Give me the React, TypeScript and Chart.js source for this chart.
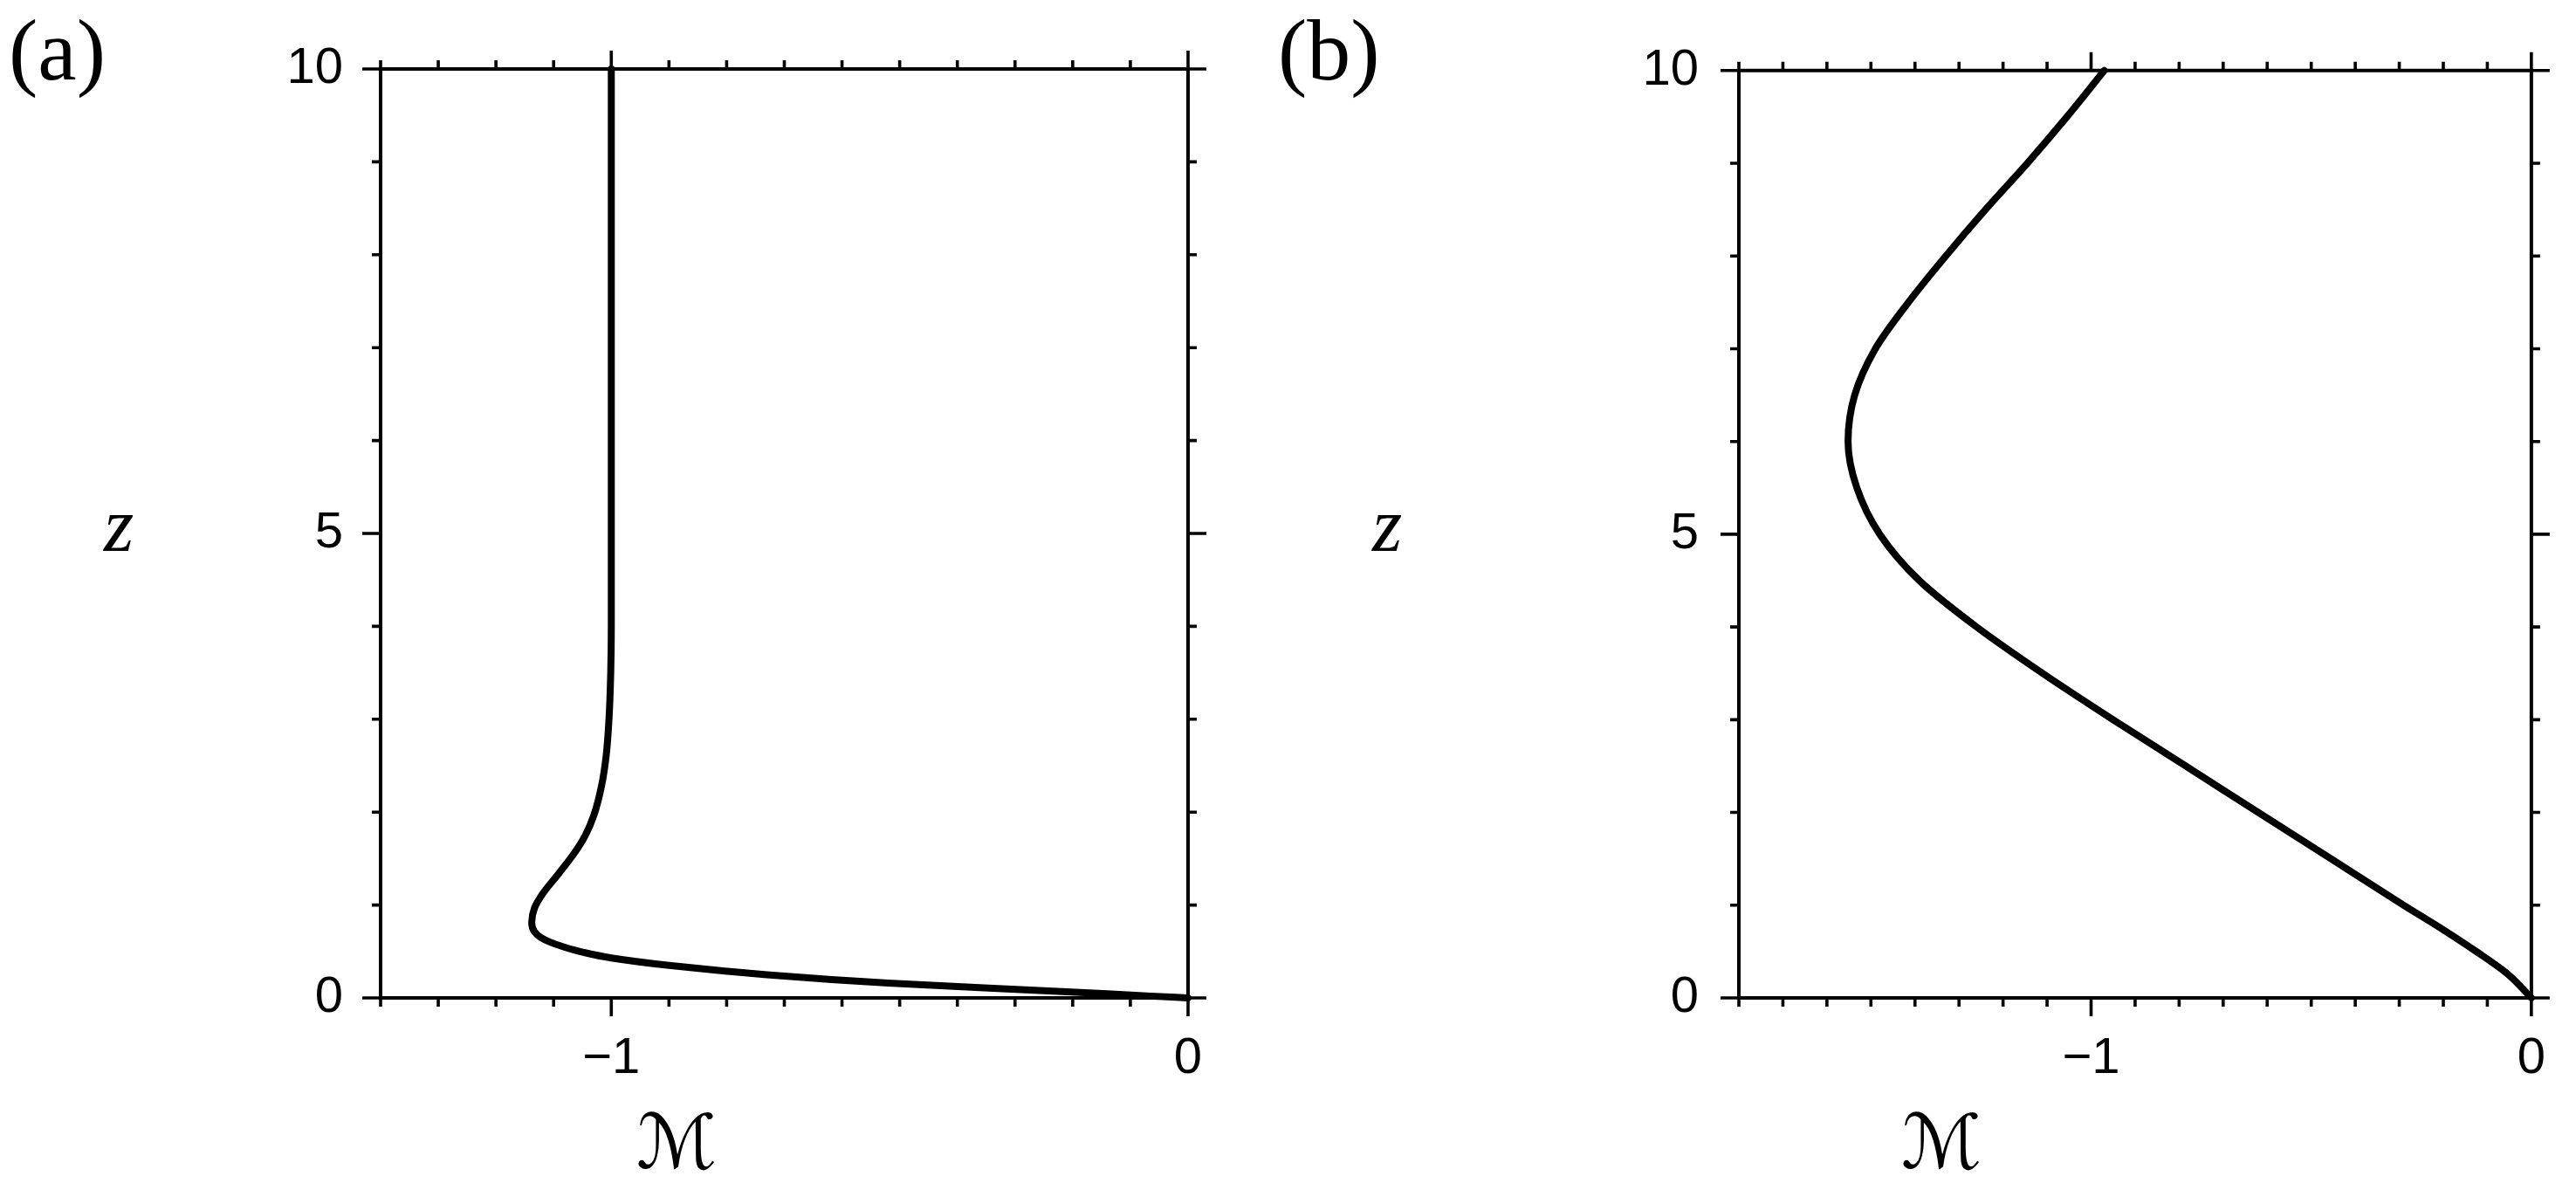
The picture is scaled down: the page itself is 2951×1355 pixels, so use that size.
import React, { useEffect, useRef } from 'react';
import { Chart, registerables } from 'chart.js';
Chart.register(...registerables);

const W = 2951;
const H = 1355;

// ---- Panel (a) data: M (x) versus z (y) ----
const panelA_z = [0, 0.02, 0.045, 0.1, 0.16, 0.25, 0.35, 0.43, 0.49, 0.55, 0.6, 0.65, 0.71, 0.81, 0.97, 1.13, 1.34, 1.56, 1.75, 1.97, 2.28, 2.6, 3.0, 3.5, 4.0, 10];
const panelA_M = [0, -0.065, -0.14, -0.33, -0.52, -0.73, -0.9, -1.0, -1.048, -1.083, -1.106, -1.122, -1.133, -1.138, -1.133, -1.118, -1.091, -1.064, -1.045, -1.03, -1.017, -1.009, -1.004, -1.001, -1.0, -1.0];

// ---- Panel (b) data ----
const panelB_z = [0, 0.25, 0.5, 0.75, 1.0, 1.5, 2.0, 2.5, 3.0, 3.5, 4.0, 4.5, 5.0, 5.5, 6.0, 6.5, 7.0, 7.5, 8.0, 8.5, 9.0, 9.5, 10];
const panelB_M = [0, -0.052, -0.125, -0.205, -0.29, -0.455, -0.62, -0.785, -0.95, -1.11, -1.26, -1.39, -1.48, -1.532, -1.552, -1.537, -1.49, -1.415, -1.33, -1.24, -1.145, -1.055, -0.97];

// ---- axes ----
const panelA_xRange = [-1.4, 0];
const panelB_xRange = [-1.8, 0];
const zRange = [0, 10];
const xLabeledValues = [-1, 0];
const xLabelTexts = ['\u22121', '0'];
const yLabeledValues = [0, 5, 10];
const yLabelTexts = ['0', '5', '10'];
const panelLetters = ['(a)', '(b)'];
const xTitle = '\u2133';
const yTitle = 'z';

const AXIS_W = 4;
const TICK_W = 3.6;
const MAJOR = 21;
const MINOR = 10;

const near = (a: number, b: number) => Math.abs(a - b) < 1e-6;

const decor = {
  id: 'panelDecor',
  afterDatasetsDraw(chart: any, _args: any, opts: any) {
    const { ctx, chartArea } = chart;
    const { left, right, top, bottom } = chartArea;
    const xs = chart.scales.x;
    const ys = chart.scales.y;
    ctx.save();
    ctx.strokeStyle = '#000';
    ctx.lineCap = 'butt';
    ctx.lineWidth = AXIS_W;
    ctx.beginPath();
    ctx.rect(left, top, right - left, bottom - top);
    ctx.stroke();
    ctx.lineWidth = TICK_W;
    ctx.beginPath();
    for (const t of xs.ticks) {
      const p = xs.getPixelForValue(t.value);
      const len = xLabeledValues.some((v) => near(v, t.value)) ? MAJOR : MINOR;
      ctx.moveTo(p, bottom);
      ctx.lineTo(p, bottom + len);
      ctx.moveTo(p, top);
      ctx.lineTo(p, top - len);
    }
    for (const t of ys.ticks) {
      const p = ys.getPixelForValue(t.value);
      const len = yLabeledValues.some((v) => near(v, t.value)) ? MAJOR : MINOR;
      ctx.moveTo(left, p);
      ctx.lineTo(left - len, p);
      ctx.moveTo(right, p);
      ctx.lineTo(right + len, p);
    }
    ctx.stroke();

    ctx.fillStyle = '#000';
    ctx.textAlign = 'left';
    ctx.textBaseline = 'alphabetic';
    ctx.font = '100px "Liberation Serif"';
    ctx.fillText(opts.letter, opts.letterX, 91);

    ctx.textAlign = 'center';
    ctx.font = 'italic 88px "Liberation Serif"';
    ctx.fillText(yTitle, opts.zX, 631);

    ctx.font = 'italic 86px "DejaVu Serif", "DejaVu Sans"';
    ctx.fillText(xTitle, opts.mX, 1338);
    ctx.restore();
  },
};

function buildConfig(
  Ms: number[],
  zs: number[],
  xRange: number[],
  padLeft: number,
  yWidth: number,
  right: number,
  yPad: number,
  deco: any
) {
  const points = Ms.map((m, i) => ({ x: m, y: zs[i] }));
  return {
    type: 'scatter' as const,
    data: {
      datasets: [
        {
          data: points,
          showLine: true,
          borderColor: '#000',
          backgroundColor: '#000',
          borderWidth: 8,
          pointRadius: 0,
          cubicInterpolationMode: 'monotone',
          borderJoinStyle: 'round',
          borderCapStyle: 'round',
          fill: false,
          clip: 10,
        },
      ],
    },
    options: {
      indexAxis: 'y',
      animation: false,
      responsive: false,
      devicePixelRatio: 1,
      events: [],
      layout: { padding: { left: padLeft, top: 79, right: W - right, bottom: 0 } },
      plugins: {
        legend: { display: false },
        tooltip: { enabled: false },
        panelDecor: deco,
      },
      scales: {
        x: {
          type: 'linear',
          position: 'bottom',
          min: xRange[0],
          max: xRange[1],
          grid: { display: false, drawTicks: false },
          border: { display: false },
          ticks: {
            stepSize: 0.1,
            autoSkip: false,
            maxRotation: 0,
            minRotation: 0,
            maxTicksLimit: 100,
            padding: 35,
            color: '#000',
            font: { family: '"Liberation Sans"', size: 58 },
            callback: (v: number) => {
              const i = xLabeledValues.findIndex((u) => near(u, v));
              return i >= 0 ? xLabelTexts[i] : '';
            },
          },
          afterFit: (s: any) => {
            s.height = H - 1143;
          },
        },
        y: {
          type: 'linear',
          position: 'left',
          min: zRange[0],
          max: zRange[1],
          grid: { display: false, drawTicks: false },
          border: { display: false },
          ticks: {
            stepSize: 1,
            autoSkip: false,
            maxTicksLimit: 100,
            padding: yPad,
            color: '#000',
            font: { family: '"Liberation Sans"', size: 58 },
            callback: (v: number) => {
              const i = yLabeledValues.findIndex((u) => near(u, v));
              return i >= 0 ? yLabelTexts[i] : '';
            },
          },
          afterFit: (s: any) => {
            s.width = yWidth;
          },
        },
      },
    },
    plugins: [decor],
  };
}

function Panel(props: { cfg: () => any }) {
  const ref = useRef<HTMLCanvasElement | null>(null);
  useEffect(() => {
    if (!ref.current) return;
    const chart = new Chart(ref.current, props.cfg() as any);
    return () => chart.destroy();
  }, []);
  return (
    <canvas
      ref={ref}
      width={W}
      height={H}
      style={{ position: 'absolute', left: 0, top: 0, width: W, height: H }}
    />
  );
}

export default function App() {
  return (
    <div style={{ position: 'absolute', left: 0, top: 0, width: W, height: H, background: '#fff', overflow: 'hidden' }}>
      <Panel
        cfg={() =>
          buildConfig(panelA_M, panelA_z, panelA_xRange, 0, 436, 1361, 43, {
            letter: panelLetters[0],
            letterX: 10,
            zX: 136,
            mX: 775,
          })
        }
      />
      <Panel
        cfg={() =>
          buildConfig(panelB_M, panelB_z, panelB_xRange, 1400, 592, 2919, 46, {
            letter: panelLetters[1],
            letterX: 1464,
            zX: 1589,
            mX: 2224,
          })
        }
      />
    </div>
  );
}
